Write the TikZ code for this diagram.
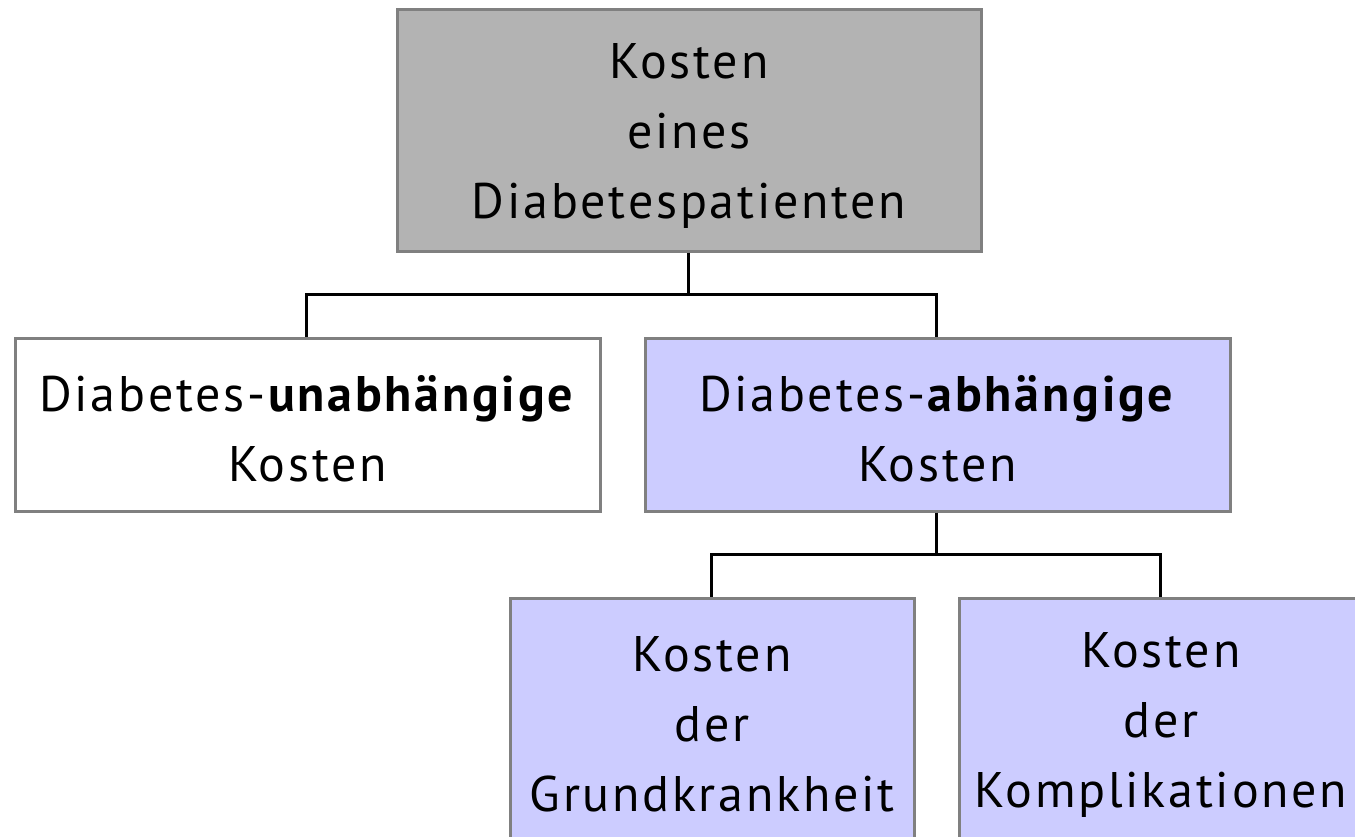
\documentclass[tikz,border=0pt]{standalone}
\usepackage{fontspec}
\setmainfont{PT Sans}[LetterSpace=5.5]
\newcommand{\lst}{\rule[-3pt]{0pt}{50pt}}
\begin{document}
\begin{tikzpicture}[x=1pt,y=-1pt,
  box/.style={draw=boxgray, line width=3pt, inner sep=0pt, align=center,
    font=\fontsize{50}{70}\selectfont},
  conn/.style={draw=black, line width=3pt}]
\definecolor{boxgray}{HTML}{808080}
\definecolor{topfill}{HTML}{B3B3B3}
\definecolor{lav}{HTML}{CCCCFF}
\useasboundingbox (0,0) rectangle (1355,836);
\clip (0,0) rectangle (1355,836);
\node[box, fill=topfill, minimum width=584pt, minimum height=242pt] (top) at (689,130)
  {\lst Kosten\\\lst eines\\\lst Diabetespatienten};
\node[box, fill=white, minimum width=585pt, minimum height=173pt] (unab) at (307.5,424.5)
  {\lst Diabetes-\textbf{unabhängige}\\\lst Kosten};
\node[box, fill=lav, minimum width=585pt, minimum height=173pt] (ab) at (937.5,424.5)
  {\lst Diabetes-\textbf{abhängige}\\\lst Kosten};
\node[box, fill=lav, minimum width=404pt, minimum height=242pt] (grund) at (712,719)
  {\lst Kosten\\\lst der\\\lst Grundkrankheit};
\node[box, fill=lav, minimum width=404pt, minimum height=242pt] (kompl) at (1161,719)
  {\lst Kosten\\\lst der\\\lst Komplikationen};
\coordinate (j1) at (688,294);
\coordinate (j2) at (936,554);
\draw[conn] (top.south -| j1) -- (j1);
\draw[conn] (unab.north -| 306,0) |- (j1) -| (ab.north -| 936,0);
\draw[conn] (ab.south -| j2) -- (j2);
\draw[conn] (grund.north -| 711,0) |- (j2) -| (kompl.north -| 1160,0);
\end{tikzpicture}
\end{document}
